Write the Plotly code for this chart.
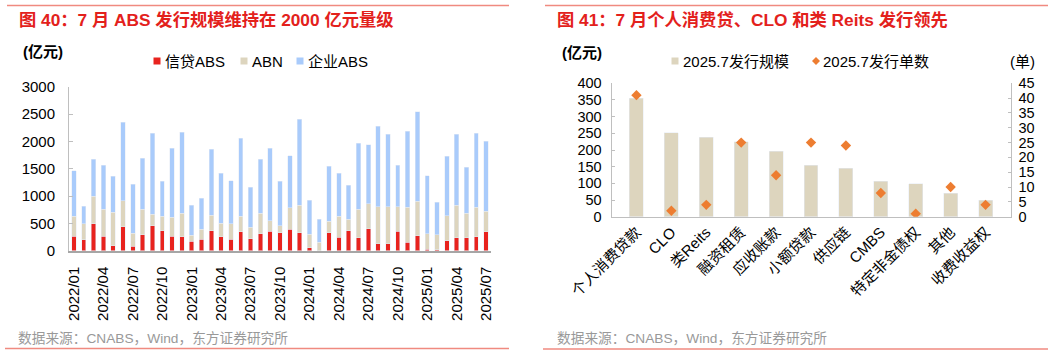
import plotly.graph_objects as go

W, H = 1061, 355
FONT = "Liberation Sans, Arial, Noto Sans CJK SC, sans-serif"

# ---------------- data: left chart ----------------
months = [f"{y}/{m:02d}" for y in (2022, 2023, 2024, 2025) for m in range(1, 13)][:43]
credit_abs = [268, 201, 494, 268, 91, 439, 85, 293, 457, 366, 268, 256,
              171, 207, 366, 256, 207, 348, 220, 311, 357, 329, 390, 329,
              55, 0, 329, 250, 366, 238, 402, 128, 128, 354, 152, 274,
              24, 18, 183, 238, 238, 256, 348]
abn = [366, 293, 506, 488, 616, 476, 232, 469, 214, 268, 348, 427,
       116, 189, 286, 250, 287, 286, 213, 372, 189, 128, 397, 506,
       250, 157, 214, 384, 213, 518, 458, 677, 677, 451, 647, 628,
       287, 275, 457, 597, 451, 543, 378]
corp_abs = [829, 323, 677, 811, 653, 1433, 896, 927, 1482, 640, 1262, 1488,
            548, 567, 1202, 909, 787, 1427, 732, 988, 1329, 811, 951, 1568,
            616, 415, 1006, 787, 622, 1208, 1079, 1476, 1329, 762, 1390, 1641,
            1061, 591, 1086, 1299, 842, 1354, 1280]
left_ticks = months[::3]

# ---------------- data: right chart ----------------
types = ["个人消费贷款", "CLO", "类Reits", "融资租赁", "应收账款", "小额贷款",
         "供应链", "CMBS", "特定非金债权", "其他", "收费收益权"]
scale = [355, 251, 238, 225, 196, 155, 145, 106, 99, 71, 49]
count = [41, 2, 4, 25, 14, 25, 24, 8, 1, 10, 4]

RED = "#E8231E"
BEIGE = "#DDD5BE"
BLUE = "#A9CBFB"
ORANGE = "#ED7D31"
TITLE_RED = "#E3211C"
LINE_RED = "#F08A80"
AX = "#BFBFBF"


def px(x):
    return x / W


def py(y):
    return 1 - y / H


fig = go.Figure()
fig.add_trace(go.Bar(x=months, y=credit_abs, name="信贷ABS", marker_color=RED,
                     width=0.45, xaxis="x", yaxis="y"))
fig.add_trace(go.Bar(x=months, y=abn, name="ABN", marker_color=BEIGE,
                     width=0.45, xaxis="x", yaxis="y"))
fig.add_trace(go.Bar(x=months, y=corp_abs, name="企业ABS", marker_color=BLUE,
                     width=0.45, xaxis="x", yaxis="y"))
fig.add_trace(go.Bar(x=types, y=scale, name="2025.7发行规模", marker_color=BEIGE,
                     width=0.4, xaxis="x2", yaxis="y2"))
fig.add_trace(go.Scatter(x=types, y=count, name="2025.7发行单数", mode="markers",
                         marker=dict(symbol="diamond", size=8, color=ORANGE),
                         xaxis="x2", yaxis="y3"))

tickfont = dict(family=FONT, size=15, color="#000000")
tickfont_r = dict(family=FONT, size=14.5, color="#000000")

fig.update_layout(
    width=W, height=H,
    margin=dict(l=0, r=0, t=0, b=0, autoexpand=False),
    paper_bgcolor="white", plot_bgcolor="white",
    barmode="stack",
    showlegend=False,
    font=dict(family=FONT, size=15, color="#000000"),
    xaxis=dict(domain=[px(69), px(491)], anchor="y", type="category",
               tickvals=left_ticks, ticktext=left_ticks, tickangle=-90,
               tickfont=tickfont, showline=True, linecolor="#A6A6A6", linewidth=2,
               ticks="", showgrid=False, zeroline=False, ticklabelstandoff=8,
               automargin=False),
    yaxis=dict(domain=[py(250.7), py(86.7)], anchor="x", range=[0, 3000], dtick=500,
               tickfont=tickfont, showline=True, linecolor=AX, linewidth=1,
               ticks="inside", ticklen=4, tickcolor=AX, showgrid=False,
               zeroline=False, ticklabelstandoff=10, automargin=False),
    xaxis2=dict(domain=[px(611.5), px(1010.5)], anchor="y2", type="category",
                tickangle=-45, tickfont=tickfont, showline=True, linecolor=AX,
                linewidth=1, ticks="", showgrid=False, zeroline=False,
                automargin=False),
    yaxis2=dict(domain=[py(216.7), py(83.3)], anchor="x2", range=[0, 400], dtick=50,
                tickfont=tickfont_r, showline=True, linecolor=AX, linewidth=1,
                ticks="inside", ticklen=3, tickcolor=AX, showgrid=False,
                zeroline=False, ticklabelstandoff=6, automargin=False),
    yaxis3=dict(overlaying="y2", anchor="x2", side="right", range=[0, 45], dtick=5,
                tickfont=tickfont_r, showline=True, linecolor=AX, linewidth=1,
                ticks="inside", ticklen=3, tickcolor=AX, showgrid=False,
                zeroline=False, ticklabelstandoff=4, automargin=False),
)

shapes = []
# decorative red rules
for (x0, x1, y) in [(7, 509, 5.5), (5, 509, 348.5), (545, 1048, 5.5), (543, 1048, 349)]:
    shapes.append(dict(type="line", xref="paper", yref="paper", x0=px(x0), x1=px(x1),
                       y0=py(y), y1=py(y), line=dict(color=LINE_RED, width=1.5)))
# legend squares
for (x0, c) in [(153.5, RED), (240.5, BEIGE), (296.5, BLUE), (671.5, BEIGE)]:
    shapes.append(dict(type="rect", xref="paper", yref="paper", x0=px(x0), x1=px(x0 + 7),
                       y0=py(64.5), y1=py(57.5), fillcolor=c, line=dict(width=0)))
# legend diamond
cx, cy, r = 816, 61, 4
shapes.append(dict(type="path", xref="paper", yref="paper",
                   path=f"M {px(cx - r)},{py(cy)} L {px(cx)},{py(cy - r)} L {px(cx + r)},{py(cy)} L {px(cx)},{py(cy + r)} Z",
                   fillcolor=ORANGE, line=dict(width=0)))

annotations = []


def txt(x, y, s, size=15, color="#000000", anchor="left"):
    annotations.append(dict(x=px(x), y=py(y), xref="paper", yref="paper", text=s,
                            showarrow=False, xanchor=anchor, yanchor="middle",
                            font=dict(family=FONT, size=size, color=color)))


txt(17, 20, "<b>图 40：7 月 ABS 发行规模维持在 2000 亿元量级</b>", size=17.3, color=TITLE_RED)
txt(555, 20, "<b>图 41：7 月个人消费贷、CLO 和类 Reits 发行领先</b>", size=17.3, color=TITLE_RED)
txt(21, 51, "<b>(亿元)</b>", size=15)
txt(560, 52, "<b>(亿元)</b>", size=15)
txt(1008, 61, "(单)", size=15)
txt(163, 61, "信贷ABS")
txt(249.5, 61, "ABN")
txt(306, 61, "企业ABS")
txt(680.5, 61, "2025.7发行规模")
txt(821, 61, "2025.7发行单数")
txt(16, 338, "数据来源：CNABS，Wind，东方证券研究所", size=13.7, color="#999999")
txt(555, 338, "数据来源：CNABS，Wind，东方证券研究所", size=13.7, color="#999999")

fig.update_layout(shapes=shapes, annotations=annotations)
fig.write_html(
    "out.html",
    config={"displayModeBar": False},
    post_script="document.body.style.margin='0';document.body.style.overflow='hidden';",
)
